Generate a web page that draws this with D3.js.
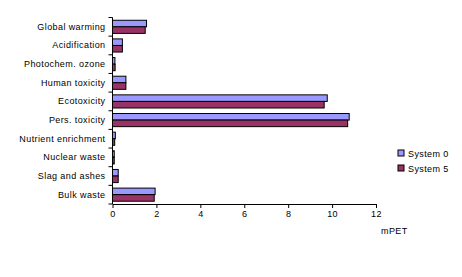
<!DOCTYPE html>
<html>
<head>
<meta charset="utf-8">
<script src="https://cdn.jsdelivr.net/npm/d3@7"></script>
<style>
  body { margin: 0; background: #fff; }
  text { font-family: "Liberation Sans", Arial, sans-serif; font-size: 9px; fill: #000; letter-spacing: 0.4px; }
</style>
</head>
<body>
<svg class="main-svg" width="462" height="277"></svg>
<script>
const categories = ["Global warming", "Acidification", "Photochem. ozone", "Human toxicity",
  "Ecotoxicity", "Pers. toxicity", "Nutrient enrichment", "Nuclear waste", "Slag and ashes", "Bulk waste"];
const system0 = [1.55, 0.45, 0.11, 0.61, 9.78, 10.78, 0.13, 0.08, 0.26, 1.94];
const system5 = [1.49, 0.45, 0.12, 0.61, 9.64, 10.71, 0.10, 0.08, 0.26, 1.90];
const seriesNames = ["System 0", "System 5"];
const xTicks = [0, 2, 4, 6, 8, 10, 12];

const colors = ["#9999ff", "#993366"];
const svg = d3.select(".main-svg");

const x = d3.scaleLinear().domain([0, 12]).range([112.5, 376]);
const y = d3.scaleBand().domain(categories).range([17.5, 204]);
const sub = d3.scaleBand().domain(seriesNames).range([0, y.bandwidth()]).paddingInner(0).paddingOuter(0.42);

const series = [system0, system5];

// bars
const groups = svg.append("g").selectAll("g")
  .data(series)
  .join("g")
    .attr("fill", (d, i) => colors[i])
    .attr("stroke", "#000")
    .attr("stroke-width", 1);

groups.selectAll("rect")
  .data((d, i) => d.map((v, j) => ({ v, cat: categories[j], s: seriesNames[i] })))
  .join("rect")
    .attr("x", x(0))
    .attr("y", d => y(d.cat) + sub(d.s))
    .attr("width", d => x(d.v) - x(0))
    .attr("height", sub.bandwidth());

// y axis
const yAxis = svg.append("g")
  .attr("transform", `translate(${x(0)},0)`);
yAxis.append("line")
  .attr("y1", y.range()[0]).attr("y2", y.range()[1])
  .attr("stroke", "#000");
yAxis.selectAll("line.tk")
  .data(d3.range(categories.length + 1))
  .join("line")
    .attr("class", "tk")
    .attr("x1", -4).attr("x2", 0)
    .attr("y1", i => y.range()[0] + i * y.step())
    .attr("y2", i => y.range()[0] + i * y.step())
    .attr("stroke", "#000");
yAxis.selectAll("text")
  .data(categories)
  .join("text")
    .attr("x", -7)
    .attr("y", d => y(d) + y.bandwidth() / 2 + 3)
    .attr("text-anchor", "end")
    .text(d => d);

// x axis
const xAxis = svg.append("g")
  .attr("transform", `translate(0,${y.range()[1]})`)
  .call(d3.axisBottom(x).tickValues(xTicks).tickSize(4).tickSizeOuter(0).tickFormat(d3.format("d")));
xAxis.select(".domain").attr("stroke", "#000");
xAxis.selectAll("text").attr("font-family", null).attr("font-size", null).attr("dy", "0.71em").attr("y", 7);

svg.append("text")
  .attr("x", 381).attr("y", 234)
  .text("mPET");

// legend
const legend = svg.append("g").selectAll("g")
  .data(seriesNames)
  .join("g")
    .attr("transform", (d, i) => `translate(398,${150 + i * 15})`);
legend.append("rect")
  .attr("width", 6).attr("height", 6)
  .attr("fill", (d, i) => colors[i])
  .attr("stroke", "#000");
legend.append("text")
  .attr("x", 10).attr("y", 7)
  .text(d => d);
</script>
</body>
</html>
